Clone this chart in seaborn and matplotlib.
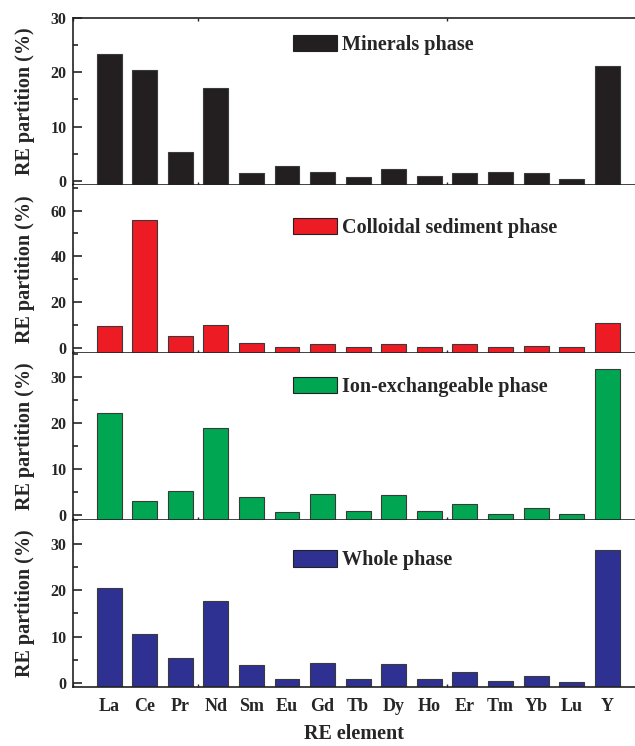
import matplotlib
matplotlib.use("Agg")
import matplotlib.pyplot as plt
import seaborn as sns
from matplotlib.patches import Patch
from matplotlib.ticker import MultipleLocator

elements = ["La", "Ce", "Pr", "Nd", "Sm", "Eu", "Gd", "Tb", "Dy", "Ho", "Er", "Tm", "Yb", "Lu", "Y"]

minerals = [23.3, 20.4, 5.4, 17.1, 1.5, 2.7, 1.7, 0.8, 2.2, 1.0, 1.4, 1.7, 1.4, 0.3, 21.1]
colloidal = [9.6, 56.0, 5.3, 10.0, 2.4, 0.6, 1.7, 0.5, 1.7, 0.5, 1.6, 0.5, 0.9, 0.3, 10.9]
ion_exch = [22.1, 3.1, 5.3, 18.8, 4.0, 0.7, 4.6, 0.9, 4.5, 1.0, 2.4, 0.3, 1.6, 0.3, 31.6]
whole = [20.5, 10.6, 5.5, 17.7, 3.8, 0.9, 4.3, 0.9, 4.1, 0.9, 2.4, 0.5, 1.6, 0.3, 28.6]

phases = ["Minerals phase", "Colloidal sediment phase", "Ion-exchangeable phase", "Whole phase"]
colors = ["#231f20", "#ed1c24", "#00a651", "#2e3192"]
ylims = [(-0.8, 30), (-2.0, 71), (-1.0, 35.2), (-0.9, 35.1)]
steps = [10, 20, 10, 10]
legend_y = [0.837, 0.747, 0.797, 0.758]

sns.set_style("ticks")
plt.rcParams["font.family"] = ["Liberation Serif", "DejaVu Serif"]
plt.rcParams["font.weight"] = "bold"
plt.rcParams["axes.labelweight"] = "bold"

fig, axes = plt.subplots(4, 1, figsize=(6.35, 7.46), dpi=100, sharex=True)
fig.subplots_adjust(left=0.1157, right=1.0, top=0.9759, bottom=0.0787, hspace=0)

for i, (ax, vals) in enumerate(zip(axes, [minerals, colloidal, ion_exch, whole])):
    sns.barplot(x=elements, y=vals, color=colors[i], saturation=1, width=0.7,
                edgecolor="#3a3a3a", linewidth=0.8, ax=ax)
    lo, hi = ylims[i]
    # bars start from the bottom of the axis, as in the original
    for p in ax.patches:
        h = p.get_height()
        p.set_y(lo)
        p.set_height(h - lo)
    ax.set_ylim(lo, hi)
    ax.set_xlim(-1.0, 14.78)
    ax.yaxis.set_major_locator(MultipleLocator(steps[i]))
    ax.yaxis.set_minor_locator(MultipleLocator(steps[i] / 2))
    ax.xaxis.set_minor_locator(MultipleLocator(3.5, offset=-1))
    ax.tick_params(axis="y", which="major", direction="in", length=6.5, width=1.2,
                   labelsize=11.5, pad=5)
    ax.tick_params(axis="y", which="minor", direction="in", length=3.6, width=1.2)
    ax.tick_params(axis="x", which="major", length=0, labelsize=13, pad=8)
    ax.tick_params(axis="x", which="minor", direction="in", length=2.5, width=1.0,
                   top=(i == 0))
    for side in ["left", "bottom", "top"]:
        ax.spines[side].set_linewidth(1.2)
        ax.spines[side].set_color("#222222")
    ax.spines["right"].set_visible(False)
    if i > 0:
        ax.spines["top"].set_visible(False)
    ax.set_ylabel("RE partition (%)", fontsize=14.5)
    ax.yaxis.set_label_coords(-0.068, 0.5)
    handle = Patch(facecolor=colors[i], edgecolor="#222222", linewidth=0.8)
    ax.legend([handle], [phases[i]], loc="center left", bbox_to_anchor=(0.391, legend_y[i]),
              frameon=False, fontsize=14.5, handlelength=2.2, handleheight=0.85,
              handletextpad=0.25, borderpad=0, borderaxespad=0)

axes[-1].set_xlabel("RE element", fontsize=14.5, labelpad=6)

plt.savefig("out.png", dpi=100)
